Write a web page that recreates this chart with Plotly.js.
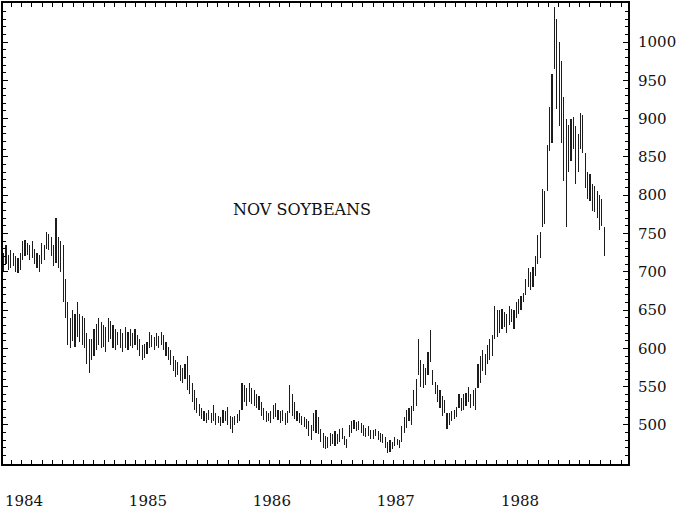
<!DOCTYPE html>
<html>
<head>
<meta charset="utf-8">
<script src="https://cdn.plot.ly/plotly-3.0.1.min.js"></script>
<style>html,body{margin:0;padding:0;background:#fff;}#chart{width:700px;height:511px;}</style>
</head>
<body>
<div id="chart"></div>
<script>
// Weekly high/low estimates, NOV SOYBEANS (cents/bu)
const years = [1984, 1985, 1986, 1987, 1988];
const yearLabels = ['1984', '1985', '1986', '1987', '1988'];
const priceTicks = [500, 550, 600, 650, 700, 750, 800, 850, 900, 950, 1000];

const low1984 = [705,700,710,702, 705,708,700,698,702, 715,720,722,715,718, 710,705,700,710,715, 730,728,720,708, 712,705,700, 660, 640,605, 600,610,602,615,608,605,600, 580,568,585,590,598,605, 600,602,595,608,612,600,598,605,600,595];
const high1984 = [730,725,735,722, 728,724,720,718,724, 740,742,738,735,740, 730,725,722,738,735, 752,750,745,735, 770,745,740, 735, 690,660, 640,650,645,660,645,642,640, 620,612,612,625,632,640, 635,630,628,640,636,630,625,622,625,620];

const low1985 = [600,598,603,600,605,598,590,585,588,592, 600,602,598,603,600,605,598,590,585,578, 570,562,565,558,555,560,545,540,530,520, 515,512,508,505,503,506,502,505,500,502, 498,502,505,500,495,490,500,503,505,520, 530,525];
const high1985 = [628,622,625,620,625,618,612,605,606,608, 622,618,615,620,616,622,618,608,602,598, 590,585,582,578,575,580,590,565,555,545, 535,528,522,518,516,520,515,526,515,512, 510,520,518,523,512,510,512,514,520,555, 552,548];

const low1986 = [530,528,525,522,520,512,506,504,505,503, 508,510,506,502,505,500,503,515,512,508, 505,503,500,497,495,485,480,492,490,488, 478,470,468,470,472,475,472,475,478,482, 474,470,484,490,495,492,494,490,486,484, 486,482];
const high1986 = [555,548,545,540,538,530,522,518,516,518, 526,529,520,518,520,515,518,552,540,530, 518,515,512,510,508,505,500,515,520,510, 495,490,485,484,490,488,492,488,495,496, 486,482,500,505,506,504,505,502,500,496, 498,494];

const low1987 = [482,485,480,478,476,470,463,465,468,472, 474,470,478,490,496,505,500,518,525,565, 550,548,552,565,582,552,540,530,522,512, 515,495,500,505,508,510,522,518,520,525, 530,522,525,520,548,555,570,565,580,585, 590,612];
const high1987 = [494,495,492,490,488,484,478,480,478,484, 482,480,498,510,520,522,525,545,560,612, 585,580,575,595,624,572,556,552,545,538, 532,515,516,518,520,524,540,535,540,542, 550,540,545,548,580,590,598,592,605,612, 618,655];

const low1988 = [615,620,625,628,620,630,635,625,640,645, 650,660,670,680,676,680,695,710,718,758, 762,805,858,868,965,912,890,868,818,758, 830,845,860,815,830,860,855,810,795,792, 780,778,770,755,760,720];
const high1988 = [650,650,652,648,645,655,652,650,660,665, 668,672,690,705,700,706,720,748,752,808, 805,865,915,958,1046,1030,1000,975,928,900, 892,900,902,890,880,907,905,855,830,828, 815,812,806,800,795,758];

const lowsByYear = [low1984, low1985, low1986, low1987, low1988];
const highsByYear = [high1984, high1985, high1986, high1987, high1988];

const DAY = 86400000;
const xs = [], lows = [], spans = [];
years.forEach((yr, k) => {
  const start = Date.UTC(yr, 0, 2);
  lowsByYear[k].forEach((lo, i) => {
    const d = new Date(start + 7 * i * DAY);
    xs.push(d.toISOString().slice(0, 10));
    lows.push(lo);
    spans.push(highsByYear[k][i] - lo);
  });
});

const tickDates = years.map(y => y + '-03-09');
const serif = 'DejaVu Serif, Liberation Serif, serif';

const data = [
  {
    type: 'bar', x: xs, y: spans, base: lows,
    width: 3.4 * DAY,
    marker: { color: '#1c1c1c', line: { width: 0 } },
    hoverinfo: 'skip', showlegend: false
  },
  { type: 'scatter', x: [], y: [], yaxis: 'y2', showlegend: false, hoverinfo: 'skip' }
];

const layout = {
  width: 700, height: 511,
  margin: { l: 3, r: 72, t: 3, b: 47 },
  paper_bgcolor: '#ffffff', plot_bgcolor: '#ffffff',
  showlegend: false,
  bargap: 0,
  xaxis: {
    type: 'date',
    range: ['1984-01-07', '1989-01-21'],
    tickvals: tickDates, ticktext: yearLabels,
    ticks: '', ticklabelstandoff: 22,
    tickfont: { family: serif, size: 15, color: '#111' },
    showline: true, linewidth: 2, linecolor: '#000', mirror: 'allticks',
    minor: { ticks: 'inside', dtick: 'M1', tick0: '1984-01-01', ticklen: 4, tickcolor: '#000', tickwidth: 1 },
    showgrid: false, zeroline: false
  },
  yaxis: {
    side: 'right',
    range: [449, 1051],
    tickvals: priceTicks,
    ticks: 'inside', ticklen: 5, tickwidth: 1, tickcolor: '#000',
    ticklabelstandoff: 5,
    tickfont: { family: serif, size: 15, color: '#111' },
    showline: true, linewidth: 2, linecolor: '#000',
    minor: { ticks: 'inside', dtick: 10, tick0: 0, ticklen: 3, tickcolor: '#000', tickwidth: 1 },
    showgrid: false, zeroline: false
  },
  yaxis2: {
    overlaying: 'y', side: 'left',
    range: [449, 1051],
    tickvals: priceTicks, showticklabels: false,
    ticks: 'inside', ticklen: 5, tickcolor: '#000',
    showline: true, linewidth: 2, linecolor: '#000',
    minor: { ticks: 'inside', dtick: 10, tick0: 0, ticklen: 3, tickcolor: '#000' },
    showgrid: false, zeroline: false
  },
  annotations: [{
    text: 'NOV SOYBEANS', xref: 'paper', yref: 'paper',
    x: 0.478, y: 0.551, xanchor: 'center', yanchor: 'middle',
    showarrow: false, font: { family: serif, size: 16, color: '#111' }
  }]
};

Plotly.newPlot('chart', data, layout, { displayModeBar: false, staticPlot: true });
</script>
</body>
</html>
